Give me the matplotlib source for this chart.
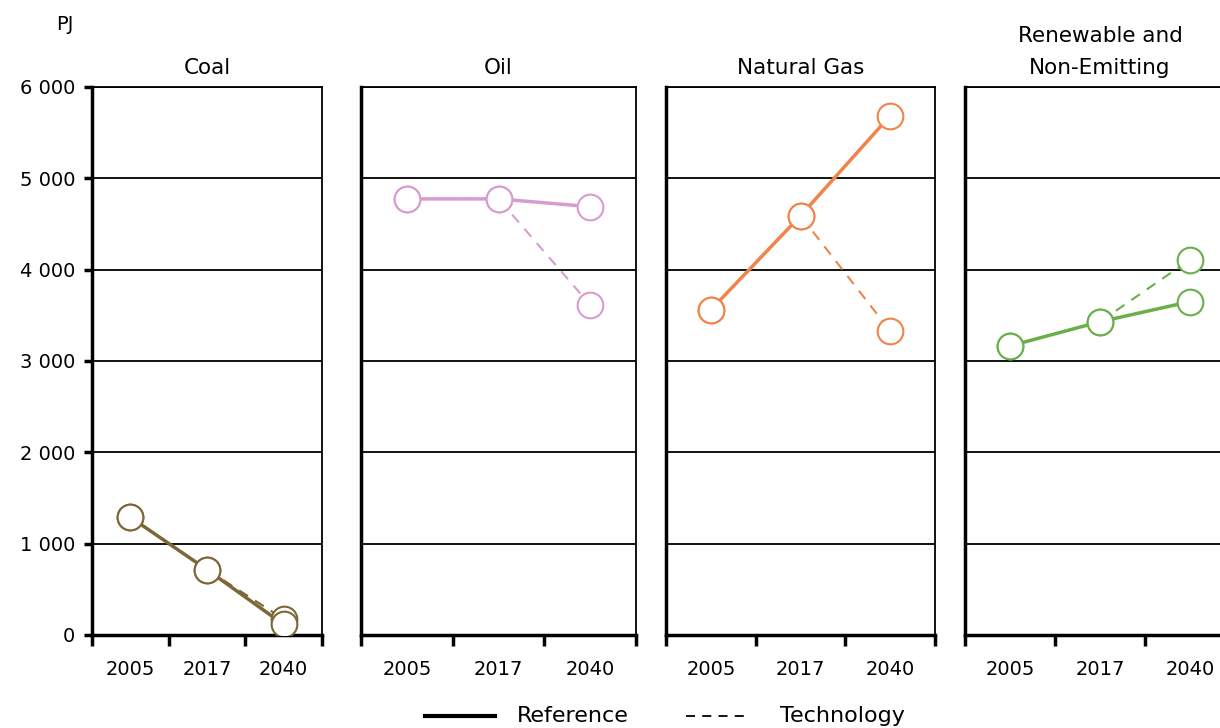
import numpy as np
import matplotlib.pyplot as plt

plt.rcParams['font.family'] = ['DejaVu Sans']

years = ["2005", "2017", "2040"]
panels = ["Coal", "Oil", "Natural Gas", "Renewable and\nNon-Emitting"]
colors = ["#7d6638", "#d89bd2", "#f0844a", "#6ab04a"]

# PJ
reference = [
    [1290, 715, 115],
    [4775, 4775, 4690],
    [3560, 4590, 5685],
    [3165, 3430, 3650],
]
technology = [
    [1290, 715, 175],
    [4775, 4775, 3615],
    [3560, 4590, 3330],
    [3165, 3430, 4110],
]

W, H = 1220, 728
fig = plt.figure(figsize=(W / 100, H / 100), dpi=100)

# panel left/right edges in pixels
edges = [(92, 322), (361, 636), (666, 935), (965, 1235)]
top, bottom = 87, 635

x = np.arange(len(years))
for i, (l, r) in enumerate(edges):
    ax = fig.add_axes([l / W, 1 - bottom / H, (r - l) / W, (bottom - top) / H])
    ax.set_xlim(-0.5, 2.5)
    ax.set_ylim(0, 6000)
    ax.set_yticks(np.arange(0, 6001, 1000))
    ax.yaxis.grid(True, color="black", linewidth=1.3)
    ax.set_axisbelow(True)

    ax.plot(x, technology[i], color=colors[i], linestyle=(0, (5, 4)), linewidth=1.5, zorder=2)
    ax.plot(x, reference[i], color=colors[i], linewidth=2.5, zorder=3)
    ax.plot(x, technology[i], linestyle="none", marker="o", markersize=18.5,
            markerfacecolor="white", markeredgecolor=colors[i], markeredgewidth=1.5, zorder=4)
    ax.plot(x, reference[i], linestyle="none", marker="o", markersize=18.5,
            markerfacecolor="white", markeredgecolor=colors[i], markeredgewidth=1.5, zorder=5)

    ax.set_xticks(x)
    ax.set_xticklabels(years, fontsize=14)
    ax.set_xticks([-0.5, 0.5, 1.5, 2.5], minor=True)
    ax.tick_params(axis="x", which="major", length=0, pad=18)
    ax.tick_params(axis="x", which="minor", length=8, width=2.5, direction="out")

    for s in ["top", "right"]:
        ax.spines[s].set_linewidth(1.3)
    ax.spines["left"].set_linewidth(2.5)
    ax.spines["bottom"].set_linewidth(2.5)

    if i == 0:
        ax.set_yticklabels(["0", "1 000", "2 000", "3 000", "4 000", "5 000", "6 000"], fontsize=14)
        ax.tick_params(axis="y", length=6, width=2.5, direction="out", pad=6)
    else:
        ax.tick_params(axis="y", length=0, labelleft=False)

    ax.set_title(panels[i], fontsize=15.5, pad=9, linespacing=1.75)

fig.text(65 / W, 1 - 25 / H, "PJ", fontsize=14, ha="center", va="center")

# legend
fig.lines.append(plt.Line2D([425 / W, 495 / W], [1 - 716 / H] * 2, color="black",
                            linewidth=3, transform=fig.transFigure))
fig.lines.append(plt.Line2D([686 / W, 750 / W], [1 - 716 / H] * 2, color="black",
                            linewidth=1.3, linestyle=(0, (5, 4)), transform=fig.transFigure))
fig.text(517 / W, 1 - 716 / H, "Reference", fontsize=16, va="center")
fig.text(780 / W, 1 - 716 / H, "Technology", fontsize=16, va="center")

fig.savefig("out.png", dpi=100)
